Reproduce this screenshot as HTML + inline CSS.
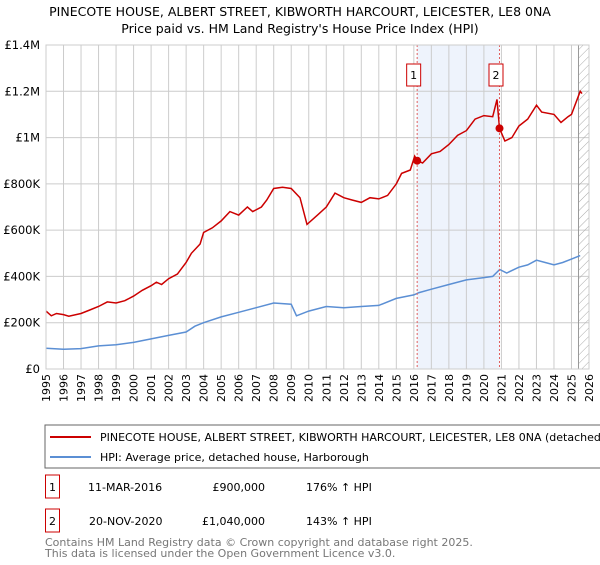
<!DOCTYPE html>
<html><head><meta charset="utf-8"><style>
body{margin:0;background:#fff;font-family:"Liberation Sans","DejaVu Sans",sans-serif;}
svg text{font-family:"DejaVu Sans","Liberation Sans",sans-serif;}
</style></head><body>
<svg id="c" width="600" height="560" xmlns="http://www.w3.org/2000/svg">
<text x="300" y="16" font-size="12.5" text-anchor="middle">PINECOTE HOUSE, ALBERT STREET, KIBWORTH HARCOURT, LEICESTER, LE8 0NA</text>
<text x="300" y="33" font-size="12.5" text-anchor="middle">Price paid vs. HM Land Registry's House Price Index (HPI)</text>
<g id="plot"></g>
<rect x="45" y="425" width="560" height="43" fill="none" stroke="#666"/>
<line x1="50" y1="437" x2="91" y2="437" stroke="#cc0000" stroke-width="2"/>
<text x="100" y="441" font-size="11">PINECOTE HOUSE, ALBERT STREET, KIBWORTH HARCOURT, LEICESTER, LE8 0NA (detached house)</text>
<line x1="50" y1="457" x2="91" y2="457" stroke="#5b8fd4" stroke-width="2"/>
<text x="100" y="461" font-size="11">HPI: Average price, detached house, Harborough</text>
<g font-size="11">
<rect x="45.5" y="475" width="14" height="23" fill="none" stroke="#cc0000"/>
<text x="52.5" y="491" text-anchor="middle">1</text>
<text x="88" y="491">11-MAR-2016</text><text x="265" y="491" text-anchor="end">£900,000</text><text x="306" y="491">176% ↑ HPI</text>
<rect x="45.5" y="509" width="14" height="23" fill="none" stroke="#cc0000"/>
<text x="52.5" y="525" text-anchor="middle">2</text>
<text x="89" y="525">20-NOV-2020</text><text x="265" y="525" text-anchor="end">£1,040,000</text><text x="306" y="525">143% ↑ HPI</text>
</g>
<text x="45" y="546" font-size="11" fill="#777">Contains HM Land Registry data © Crown copyright and database right 2025.</text>
<text x="45" y="557" font-size="11" fill="#777">This data is licensed under the Open Government Licence v3.0.</text>
</svg>
<script>
const yearTicks=[1995,1996,1997,1998,1999,2000,2001,2002,2003,2004,2005,2006,2007,2008,2009,2010,2011,2012,2013,2014,2015,2016,2017,2018,2019,2020,2021,2022,2023,2024,2025,2026];
const valueTicks=[0,200000,400000,600000,800000,1000000,1200000,1400000];
const valueTickLabels=["£0","£200K","£400K","£600K","£800K","£1M","£1.2M","£1.4M"];
const redYears=[1995,1995.3,1995.6,1996,1996.3,1997,1997.5,1998,1998.5,1999,1999.5,2000,2000.5,2001,2001.3,2001.6,2002,2002.5,2003,2003.3,2003.8,2004,2004.5,2005,2005.5,2006,2006.5,2006.8,2007.3,2007.6,2008,2008.5,2009,2009.5,2009.9,2010.5,2011,2011.5,2012,2012.5,2013,2013.5,2014,2014.5,2015,2015.3,2015.8,2016.05,2016.19,2016.5,2017,2017.5,2018,2018.5,2019,2019.5,2020,2020.5,2020.75,2020.89,2021.2,2021.6,2022,2022.5,2023,2023.3,2024,2024.4,2024.8,2025,2025.5,2025.6];
const redValues=[250,230,240,235,228,240,255,270,290,285,295,315,340,360,375,365,390,410,460,500,540,590,610,640,680,665,700,680,700,730,780,785,780,740,625,665,700,760,740,730,720,740,735,750,800,845,860,920,900,890,930,940,970,1010,1030,1080,1095,1090,1165,1040,985,1000,1050,1080,1140,1110,1100,1065,1090,1100,1200,1190];
const blueYears=[1995,1996,1997,1998,1999,2000,2001,2002,2003,2003.5,2004,2005,2006,2007,2008,2009,2009.3,2010,2011,2012,2013,2014,2015,2016,2016.3,2017,2018,2019,2020,2020.5,2020.9,2021.3,2022,2022.5,2023,2023.5,2024,2024.5,2025,2025.5];
const blueValues=[90,85,88,100,105,115,130,145,160,185,200,225,245,265,285,280,230,250,270,265,270,275,305,320,330,345,365,385,395,400,430,415,440,450,470,460,450,460,475,490];
const saleYears=[2016.19,2020.89];
const saleValues=[900000,1040000];
const saleLabels=["1","2"];

const NS="http://www.w3.org/2000/svg";
const g=document.getElementById('plot');
const X0=46,X1=589,Y0=369,Y1=45;
const xs=y=>X0+(y-1995)/(2026-1995)*(X1-X0);
const ys=v=>Y0-v/1400000*(Y0-Y1);
function mk(t,a){const e=document.createElementNS(NS,t);for(const k in a)e.setAttribute(k,a[k]);g.appendChild(e);return e;}
let e;
e=mk('rect',{x:xs(saleYears[0]),y:Y1,width:xs(saleYears[1])-xs(saleYears[0]),height:Y0-Y1,fill:'#eef3fc'});


yearTicks.forEach(yr=>{
 const l=mk('line',{x1:xs(yr),x2:xs(yr),y1:Y1,y2:Y0,stroke:'#ccc'});
 
 
 const t=mk('text',{x:0,y:0,'font-size':11,'text-anchor':'end',transform:`translate(${xs(yr)+4},${Y0+5}) rotate(-90)`});
 t.textContent=yr;
 
 
});
valueTicks.forEach((v,i)=>{
 const l=mk('line',{x1:X0,x2:X1,y1:ys(v),y2:ys(v),stroke:'#ccc'});
 
 
 const t=mk('text',{x:X0-6,y:ys(v)+4,'font-size':11.5,'text-anchor':'end'});
 t.textContent=valueTickLabels[i];
 
 
});
const hx=xs(2025.4);
const defs=mk('defs',{});
defs.innerHTML='<pattern id="h" width="6" height="6" patternUnits="userSpaceOnUse" patternTransform="rotate(45)"><line x1="0" y1="0" x2="0" y2="6" stroke="#aaa" stroke-width="1"/></pattern>';
e=mk('rect',{x:hx,y:Y1,width:X1-hx,height:Y0-Y1,fill:'url(#h)',stroke:'#999'});


function path(xa,va,col,name){
 const d=xa.map((x,i)=>(i?'L':'M')+xs(x).toFixed(1)+','+ys(va[i]*1000).toFixed(1)).join('');
 const p=mk('path',{d:d,fill:'none',stroke:col,'stroke-width':1.5});
 
 
}
path(blueYears,blueValues,'#5b8fd4','hpi-line');
path(redYears,redValues,'#cc0000','property-price-line');
saleYears.forEach((yr,i)=>{
 const l=mk('line',{x1:xs(yr),x2:xs(yr),y1:Y1,y2:Y0,stroke:'#e06060','stroke-dasharray':'2,2'});
 
 
 const c=mk('circle',{cx:xs(yr),cy:ys(saleValues[i]),r:4,fill:'#cc0000'});
 
 
 const r=mk('rect',{x:xs(yr)-10.5,y:64,width:14,height:22,fill:'#fff',stroke:'#cc0000'});
 
 
 const t=mk('text',{x:xs(yr)-3.5,y:79,'font-size':11,'text-anchor':'middle'});
 t.textContent=saleLabels[i];
 
 
});
e=mk('rect',{x:X0,y:Y1,width:X1-X0,height:Y0-Y1,fill:'none',stroke:'#ccc'});


</script>
</body></html>
